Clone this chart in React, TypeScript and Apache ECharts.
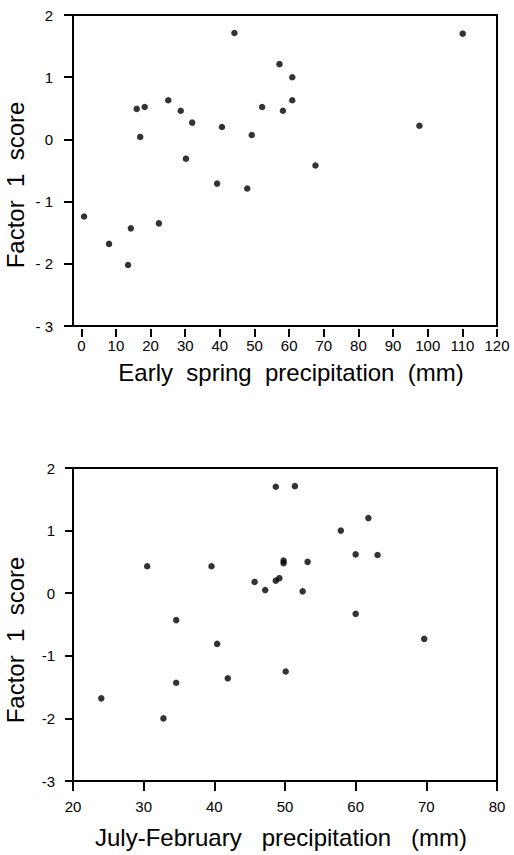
import React, { useEffect, useRef } from "react";
import * as echarts from "echarts";

// Panel 1: Early spring precipitation (mm) vs Factor 1 score
const earlySpringX = [16.0, 18.3, 17.0, 25.1, 28.7, 32.0, 30.2, 44.2, 40.6, 49.2, 39.2, 47.9, 52.2, 57.2, 60.9, 58.2, 60.9, 67.6, 97.6, 110.1, 0.8, 8.0, 14.3, 13.5, 22.4];
const earlySpringY = [0.49, 0.52, 0.04, 0.63, 0.46, 0.27, -0.31, 1.71, 0.2, 0.07, -0.71, -0.79, 0.52, 1.21, 1.0, 0.46, 0.63, -0.42, 0.22, 1.7, -1.24, -1.68, -1.43, -2.02, -1.35];

// Panel 2: July-February precipitation (mm) vs Factor 1 score
const julyFebX = [30.5, 34.6, 39.6, 48.7, 51.4, 45.7, 47.2, 48.7, 49.2, 49.8, 49.8, 53.2, 52.5, 57.9, 61.8, 60.0, 63.1, 60.0, 69.7, 40.4, 34.6, 41.9, 50.1, 24.0, 32.8];
const julyFebY = [0.43, -0.43, 0.43, 1.7, 1.71, 0.18, 0.05, 0.2, 0.24, 0.52, 0.48, 0.5, 0.03, 1.0, 1.2, 0.62, 0.61, -0.33, -0.73, -0.81, -1.43, -1.36, -1.25, -1.68, -2.0];

const topXTicks = [0, 10, 20, 30, 40, 50, 60, 70, 80, 90, 100, 110, 120];

const yTitle = "Factor  1  score";
const topXTitle = "Early  spring  precipitation  (mm)";
const bottomXTitle = "July-February   precipitation   (mm)";

const FONT = "'Liberation Sans', Arial, Helvetica, sans-serif";

export default function App() {
  const ref = useRef<HTMLDivElement>(null);

  useEffect(() => {
    if (!ref.current) return;
    const chart = echarts.init(ref.current, undefined, { renderer: "svg" });
    const topData = earlySpringX.map((x, i) => [x, earlySpringY[i]]);
    const bottomData = julyFebX.map((x, i) => [x, julyFebY[i]]);

    const labelStyle = { color: "#000", fontSize: 15, fontFamily: FONT };

    chart.setOption({
      animation: false,
      backgroundColor: "#fff",
      grid: [
        { left: 73, top: 15, width: 424, height: 311, show: true, borderColor: "#000", borderWidth: 2, containLabel: false, outerBoundsMode: "none" },
        { left: 73, top: 468, width: 424, height: 313, show: true, borderColor: "#000", borderWidth: 2, containLabel: false, outerBoundsMode: "none" },
      ],
      xAxis: [
        {
          type: "value",
          gridIndex: 0,
          min: -2.4,
          max: 120,
          offset: 3,
          axisLine: { show: false, onZero: false },
          axisTick: { show: true, inside: false, length: 8, customValues: topXTicks, lineStyle: { color: "#000", width: 2 } },
          axisLabel: { show: true, customValues: topXTicks, margin: 9, ...labelStyle },
          splitLine: { show: false },
        },
        {
          type: "value",
          gridIndex: 1,
          min: 20,
          max: 80,
          interval: 10,
          axisLine: { show: true, onZero: false, lineStyle: { color: "#000", width: 2 } },
          axisTick: { show: true, inside: false, length: 10, lineStyle: { color: "#000", width: 2 } },
          axisLabel: { show: true, margin: 18, ...labelStyle },
          splitLine: { show: false },
        },
      ],
      yAxis: [
        {
          type: "value",
          gridIndex: 0,
          min: -3,
          max: 2,
          interval: 1,
          axisLine: { show: true, onZero: false, lineStyle: { color: "#000", width: 2 } },
          axisTick: { show: true, inside: false, length: 9, lineStyle: { color: "#000", width: 2 } },
          axisLabel: {
            show: true,
            margin: 20,
            formatter: (v: number) => (v < 0 ? "- " + Math.abs(v) : String(v)),
            ...labelStyle,
          },
          splitLine: { show: false },
        },
        {
          type: "value",
          gridIndex: 1,
          min: -3,
          max: 2,
          interval: 1,
          axisLine: { show: true, onZero: false, lineStyle: { color: "#000", width: 2 } },
          axisTick: { show: true, inside: false, length: 8, lineStyle: { color: "#000", width: 2 } },
          axisLabel: { show: true, margin: 18, ...labelStyle },
          splitLine: { show: false },
        },
      ],
      series: [
        {
          type: "scatter",
          xAxisIndex: 0,
          yAxisIndex: 0,
          data: topData,
          symbol: "circle",
          symbolSize: 6.5,
          itemStyle: { color: "#000" },
        },
        {
          type: "scatter",
          xAxisIndex: 1,
          yAxisIndex: 1,
          data: bottomData,
          symbol: "circle",
          symbolSize: 6.5,
          itemStyle: { color: "#000" },
        },
      ],
      graphic: [
        {
          type: "text",
          x: 15,
          y: 185,
          rotation: Math.PI / 2,
          style: { text: yTitle, fill: "#000", font: `24px ${FONT}`, align: "center", verticalAlign: "middle" },
        },
        {
          type: "text",
          x: 15,
          y: 640,
          rotation: Math.PI / 2,
          style: { text: yTitle, fill: "#000", font: `24px ${FONT}`, align: "center", verticalAlign: "middle" },
        },
        {
          type: "text",
          x: 291,
          y: 372,
          style: { text: topXTitle, fill: "#000", font: `24px ${FONT}`, align: "center", verticalAlign: "middle" },
        },
        {
          type: "text",
          x: 281,
          y: 837,
          style: { text: bottomXTitle, fill: "#000", font: `24px ${FONT}`, align: "center", verticalAlign: "middle" },
        },
      ],
    });

    return () => {
      chart.dispose();
    };
  }, []);

  return (
    <div
      ref={ref}
      style={{ position: "fixed", left: 0, top: 0, width: 514, height: 855, background: "#fff" }}
    />
  );
}
